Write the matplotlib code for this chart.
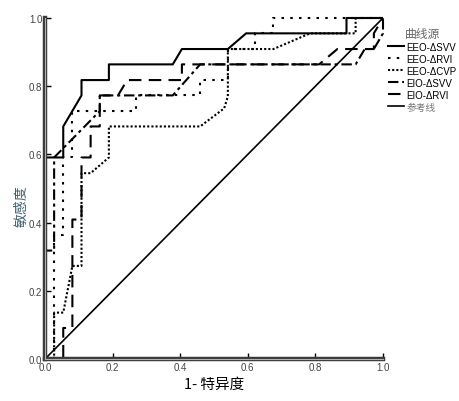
import matplotlib
matplotlib.use("Agg")
import matplotlib.pyplot as plt
from matplotlib.lines import Line2D

# ---- data (1 - specificity, sensitivity) ----
eeo_svv_x = [0, 0, 0.054, 0.054, 0.108, 0.108, 0.189, 0.189, 0.378, 0.405, 0.541, 0.595, 0.892, 0.892, 1]
eeo_svv_y = [0, 0.591, 0.591, 0.682, 0.773, 0.818, 0.818, 0.864, 0.864, 0.909, 0.909, 0.955, 0.955, 1, 1]

eeo_rvi_x = [0, 0.027, 0.027, 0.054, 0.054, 0.081, 0.081, 0.270, 0.270, 0.459, 0.459, 0.541, 0.541, 0.622, 0.622, 0.676, 0.676, 1]
eeo_rvi_y = [0, 0, 0.364, 0.364, 0.591, 0.591, 0.727, 0.727, 0.773, 0.773, 0.818, 0.818, 0.909, 0.909, 0.955, 0.955, 1, 1]

eeo_cvp_x = [0, 0.027, 0.027, 0.054, 0.081, 0.108, 0.108, 0.135, 0.189, 0.189, 0.459, 0.53, 0.541, 0.541, 0.676, 0.784, 0.919, 0.919, 1]
eeo_cvp_y = [0, 0, 0.136, 0.136, 0.273, 0.273, 0.545, 0.545, 0.591, 0.682, 0.682, 0.735, 0.77, 0.909, 0.909, 0.955, 0.955, 1, 1]

eio_svv_x = [0, 0, 0.027, 0.027, 0.162, 0.162, 0.378, 0.459, 0.919, 0.946, 0.973, 1, 1]
eio_svv_y = [0, 0.318, 0.318, 0.591, 0.727, 0.773, 0.773, 0.864, 0.864, 0.909, 0.909, 0.955, 1]

eio_rvi_x = [0, 0.054, 0.054, 0.081, 0.081, 0.108, 0.108, 0.135, 0.135, 0.162, 0.162, 0.216, 0.243, 0.405, 0.405, 0.811, 0.865, 0.973, 0.973, 1]
eio_rvi_y = [0, 0, 0.091, 0.091, 0.409, 0.409, 0.591, 0.591, 0.682, 0.682, 0.773, 0.773, 0.818, 0.818, 0.864, 0.864, 0.909, 0.909, 0.955, 1]

ref_x = [0, 1]
ref_y = [0, 1]

ticks = [0.0, 0.2, 0.4, 0.6, 0.8, 1.0]
tick_labels = ["0.0", "0.2", "0.4", "0.6", "0.8", "1.0"]
series_names = ["EEO-ΔSVV", "EEO-ΔRVI", "EEO-ΔCVP", "EIO-ΔSVV", "EIO-ΔRVI", "参考线"]

plt.rcParams['font.family'] = ['Liberation Sans', 'Noto Sans CJK SC', 'DejaVu Sans']

W, H = 459, 402
fig = plt.figure(figsize=(W / 100, H / 100), dpi=100)
fig.patch.set_facecolor('white')
ax = fig.add_axes([45 / W, 1 - 360 / H, (383 - 45) / W, (360 - 19) / H])
ax.set_xlim(0, 1)
ax.set_ylim(0, 1)

lw = 1.5
styles = [
    dict(ls='-', lw=lw),
    dict(ls=(0, (1.2, 3.0)), lw=lw),
    dict(ls=(0, (1.0, 1.0)), lw=lw),
    dict(ls=(0, (5, 1.8, 1.5, 1.8)), lw=lw),
    dict(ls=(0, (6, 3.5)), lw=lw),
    dict(ls='-', lw=1.2),
]
data = [(eeo_svv_x, eeo_svv_y), (eeo_rvi_x, eeo_rvi_y), (eeo_cvp_x, eeo_cvp_y),
        (eio_svv_x, eio_svv_y), (eio_rvi_x, eio_rvi_y), (ref_x, ref_y)]
for (xs, ys), st in zip(data, styles):
    ax.plot(xs, ys, color='black', clip_on=False, solid_capstyle='butt', dash_capstyle='butt', **st)

for s in ['top', 'right']:
    ax.spines[s].set_visible(False)
for s in ['left', 'bottom']:
    ax.spines[s].set_linewidth(3.2)
    ax.spines[s].set_color('#3a3a3a')
    ax.spines[s].set_zorder(5)
# inner light stripe to mimic the double axis line
ax.plot([0, 0], [0, 1], color='#b0b0b0', lw=0.8, clip_on=False, zorder=6, transform=ax.transAxes)
ax.plot([0, 1], [0, 0], color='#b0b0b0', lw=0.8, clip_on=False, zorder=6, transform=ax.transAxes)

ax.set_xticks(ticks)
ax.set_xticklabels(tick_labels)
ax.set_yticks(ticks)
ax.set_yticklabels(tick_labels)
ax.tick_params(direction='in', length=4, width=1, labelsize=7, labelcolor='#444444', pad=2)

ax.set_xlabel("1- 特异度", fontsize=10.5, family=['Noto Sans CJK SC'], labelpad=4)
ax.set_ylabel("敏感度", fontsize=10, family=['Noto Sans CJK SC'], color='#3d5f6e')
ax.yaxis.set_label_coords(-0.05, 0.45)

handles = [Line2D([0], [0], color='black', **st) for st in styles]
leg = fig.legend(handles, series_names, loc='upper left', bbox_to_anchor=(384 / W, 1 - 24 / H),
                 frameon=False, fontsize=7, title="曲线源", title_fontsize=8.5,
                 handlelength=1.7, handletextpad=0.2, labelspacing=0.2, borderaxespad=0)
leg.get_title().set_color('#666666')
leg.get_title().set_family(['Noto Sans CJK SC'])
for t in leg.get_texts():
    t.set_family(['Liberation Sans', 'Noto Sans CJK SC'])
leg.get_texts()[-1].set_color('#777777')

fig.savefig("out.png", dpi=100)
